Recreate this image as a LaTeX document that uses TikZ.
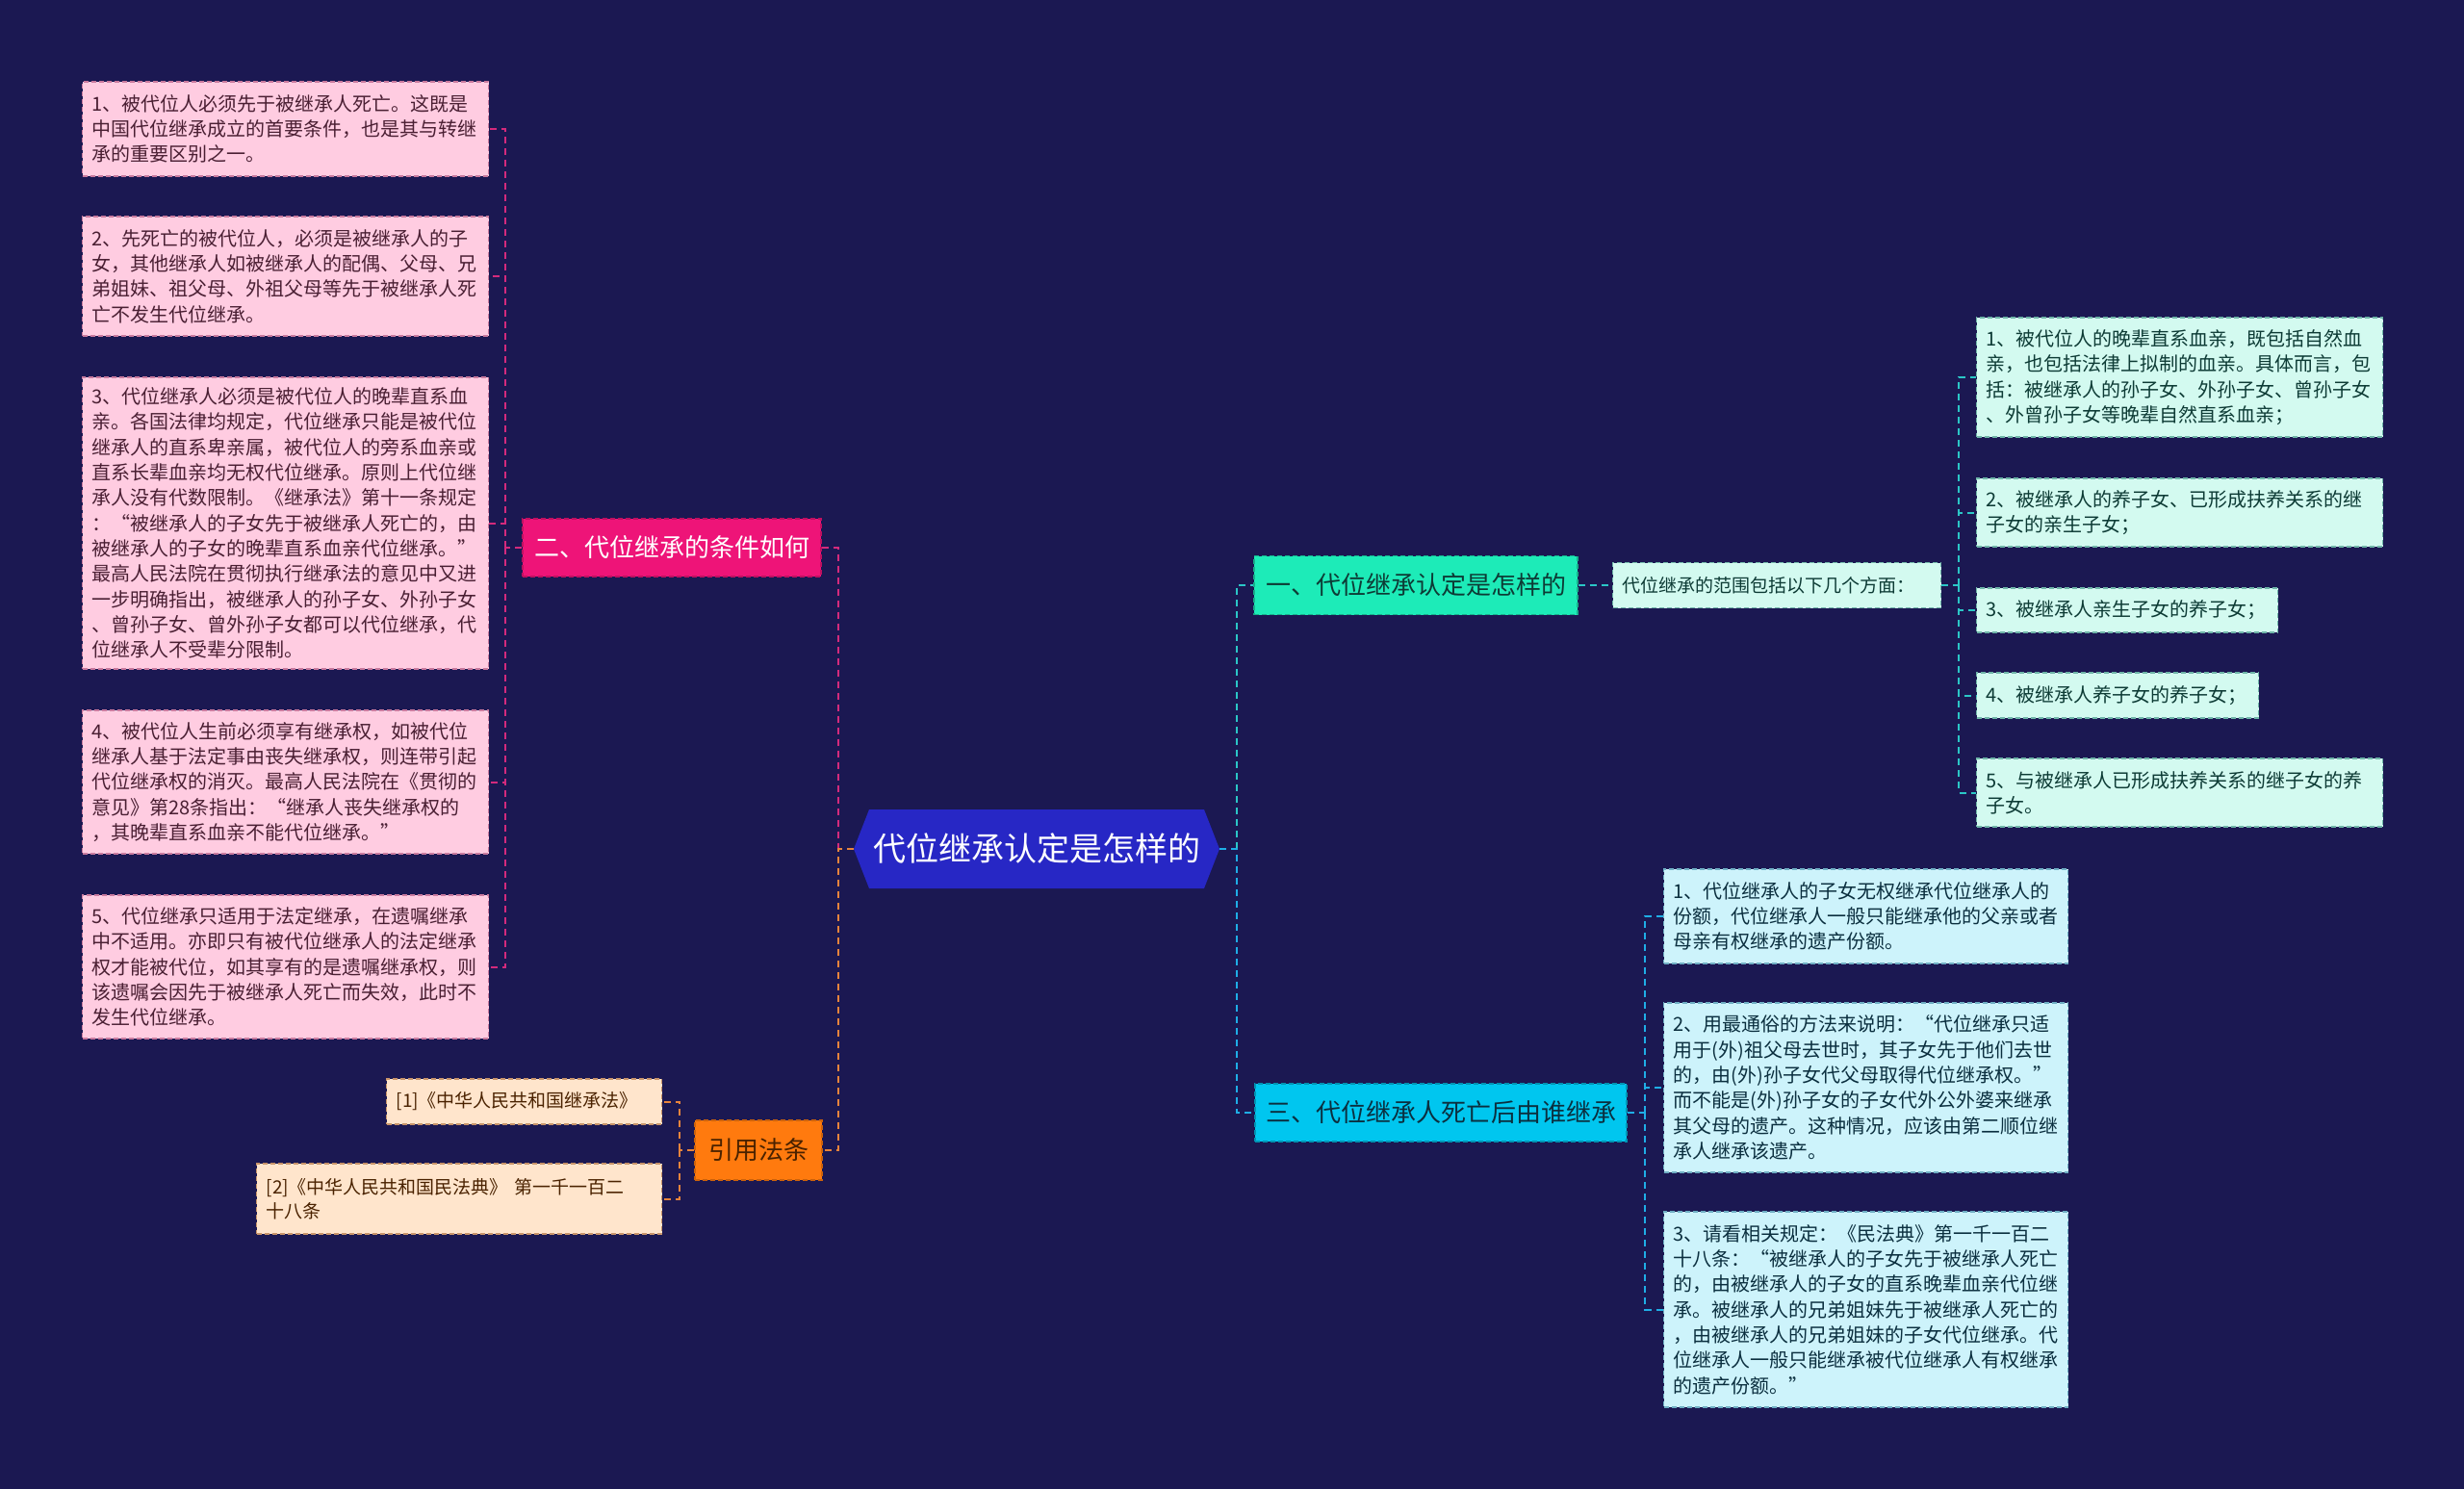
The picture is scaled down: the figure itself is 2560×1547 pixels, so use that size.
\documentclass[tikz,border=0pt]{standalone}
\usepackage{fontspec}
\setmainfont{Noto Sans CJK SC}
\definecolor{bg}{HTML}{1B1852}
\definecolor{pinkfill}{HTML}{FFCCE1}
\definecolor{pinkdraw}{HTML}{C97A9E}
\definecolor{pinktext}{HTML}{4A1F33}
\definecolor{pinknode}{HTML}{EE1478}
\definecolor{pinkline}{HTML}{D42A7C}
\definecolor{orangenode}{HTML}{FF7A0E}
\definecolor{orangetext}{HTML}{4A2200}
\definecolor{reffill}{HTML}{FFE5CC}
\definecolor{refdraw}{HTML}{C8946A}
\definecolor{orangeline}{HTML}{E8843C}
\definecolor{tealnode}{HTML}{1DEBB8}
\definecolor{tealtext}{HTML}{0D3B35}
\definecolor{tealfill}{HTML}{D3FAF0}
\definecolor{tealdraw}{HTML}{6FB5A8}
\definecolor{tealline}{HTML}{2BC6C6}
\definecolor{cyannode}{HTML}{00C6EF}
\definecolor{cyantext}{HTML}{0B2F3F}
\definecolor{cyanfill}{HTML}{CDF3FB}
\definecolor{cyandraw}{HTML}{6FAFC4}
\definecolor{cyanline}{HTML}{1FAEE6}
\definecolor{centralfill}{HTML}{2727C5}
\tikzset{
  conn/.style={line width=2pt, dash pattern=on 7pt off 5pt},
  leafbox/.style={anchor=west, inner xsep=10pt, inner ysep=0pt, align=left,
    line width=1.2pt, dash pattern=on 5pt off 3pt,
    font=\fontsize{20pt}{26.3pt}\selectfont},
  pleaf/.style={leafbox, fill=pinkfill, draw=pinkdraw, text=pinktext},
  rleaf/.style={leafbox, fill=reffill, draw=refdraw, text=orangetext, font=\fontsize{19pt}{25pt}\selectfont},
  tleaf/.style={leafbox, fill=tealfill, draw=tealdraw, text=tealtext},
  cleaf/.style={leafbox, fill=cyanfill, draw=cyandraw, text=cyantext},
  tnode/.style={inner sep=0pt, line width=1.2pt, dash pattern=on 5pt off 3pt,
    font=\fontsize{26pt}{30pt}\selectfont}
}
\begin{document}
\begin{tikzpicture}[x=1pt,y=-1pt]
\useasboundingbox (0,0) rectangle (2560,1547);
\fill[bg] (0,0) rectangle (2560,1547);

% central node
\fill[centralfill] (887,882) -- (903,841) -- (1251,841) -- (1267,882) -- (1251,923) -- (903,923) -- cycle;
\node[font=\fontsize{34pt}{40pt}\selectfont, text=white, minimum width=380pt, minimum height=82pt, inner sep=0pt] (c) at (1077,882) {代位继承认定是怎样的};

% main branches
\node[tnode, fill=pinknode, draw=pinknode!80!black, text=white, minimum width=310pt, minimum height=60pt] (er) at (698,569) {二、代位继承的条件如何};
\node[tnode, fill=orangenode, draw=orangenode!80!black, text=orangetext, minimum width=132pt, minimum height=62pt] (yy) at (788,1195) {引用法条};
\node[tnode, fill=tealnode, draw=tealnode!75!black, text=tealtext, minimum width=336pt, minimum height=61pt] (yi) at (1471,608) {一、代位继承认定是怎样的};
\node[tnode, fill=cyannode, draw=cyannode!75!black, text=cyantext, minimum width=386pt, minimum height=60pt] (san) at (1497,1156) {三、代位继承人死亡后由谁继承};

% left pink leaves
\node[pleaf, text width=402pt, minimum height=98pt] (p1) at (85,134) {1、被代位人必须先于被继承人死亡。这既是\\中国代位继承成立的首要条件，也是其与转继\\承的重要区别之一。};
\node[pleaf, text width=402pt, minimum height=124pt] (p2) at (85,287) {2、先死亡的被代位人，必须是被继承人的子\\女，其他继承人如被继承人的配偶、父母、兄\\弟姐妹、祖父母、外祖父母等先于被继承人死\\亡不发生代位继承。};
\node[pleaf, text width=402pt, minimum height=303pt] (p3) at (85,543.5) {3、代位继承人必须是被代位人的晚辈直系血\\亲。各国法律均规定，代位继承只能是被代位\\继承人的直系卑亲属，被代位人的旁系血亲或\\直系长辈血亲均无权代位继承。原则上代位继\\承人没有代数限制。《继承法》第十一条规定\\：“被继承人的子女先于被继承人死亡的，由\\被继承人的子女的晚辈直系血亲代位继承。”\\最高人民法院在贯彻执行继承法的意见中又进\\一步明确指出，被继承人的孙子女、外孙子女\\、曾孙子女、曾外孙子女都可以代位继承，代\\位继承人不受辈分限制。};
\node[pleaf, text width=402pt, minimum height=149pt] (p4) at (85,812.5) {4、被代位人生前必须享有继承权，如被代位\\继承人基于法定事由丧失继承权，则连带引起\\代位继承权的消灭。最高人民法院在《贯彻的\\意见》第28条指出：“继承人丧失继承权的\\，其晚辈直系血亲不能代位继承。”};
\node[pleaf, text width=402pt, minimum height=149pt] (p5) at (85,1004.5) {5、代位继承只适用于法定继承，在遗嘱继承\\中不适用。亦即只有被代位继承人的法定继承\\权才能被代位，如其享有的是遗嘱继承权，则\\该遗嘱会因先于被继承人死亡而失效，此时不\\发生代位继承。};

% reference leaves
\node[rleaf, text width=266pt, minimum height=47pt] (f1) at (401,1144.5) {[1]《中华人民共和国继承法》};
\node[rleaf, text width=401pt, minimum height=73pt] (f2) at (266,1245.5) {[2]《中华人民共和国民法典》~第一千一百二\\十八条};

% teal leaves
\node[tleaf, text width=321pt, minimum height=47pt, font=\fontsize{19pt}{25pt}\selectfont] (r0) at (1675,608) {代位继承的范围包括以下几个方面：};
\node[tleaf, text width=402pt, minimum height=124pt] (y1) at (2053,392) {1、被代位人的晚辈直系血亲，既包括自然血\\亲，也包括法律上拟制的血亲。具体而言，包\\括：被继承人的孙子女、外孙子女、曾孙子女\\、外曾孙子女等晚辈自然直系血亲；};
\node[tleaf, text width=402pt, minimum height=71pt] (y2) at (2053,532.5) {2、被继承人的养子女、已形成扶养关系的继\\子女的亲生子女；};
\node[tleaf, text width=293pt, minimum height=46pt] (y3) at (2053,634) {3、被继承人亲生子女的养子女；};
\node[tleaf, text width=273pt, minimum height=47pt] (y4) at (2053,722.5) {4、被继承人养子女的养子女；};
\node[tleaf, text width=402pt, minimum height=71pt] (y5) at (2053,823.5) {5、与被继承人已形成扶养关系的继子女的养\\子女。};

% cyan leaves
\node[cleaf, text width=400pt, minimum height=98pt] (s1) at (1728,952) {1、代位继承人的子女无权继承代位继承人的\\份额，代位继承人一般只能继承他的父亲或者\\母亲有权继承的遗产份额。};
\node[cleaf, text width=400pt, minimum height=176pt] (s2) at (1728,1130) {2、用最通俗的方法来说明：“代位继承只适\\用于(外)祖父母去世时，其子女先于他们去世\\的，由(外)孙子女代父母取得代位继承权。”\\而不能是(外)孙子女的子女代外公外婆来继承\\其父母的遗产。这种情况，应该由第二顺位继\\承人继承该遗产。};
\node[cleaf, text width=400pt, minimum height=203pt] (s3) at (1728,1360.5) {3、请看相关规定：《民法典》第一千一百二\\十八条：“被继承人的子女先于被继承人死亡\\的，由被继承人的子女的直系晚辈血亲代位继\\承。被继承人的兄弟姐妹先于被继承人死亡的\\，由被继承人的兄弟姐妹的子女代位继承。代\\位继承人一般只能继承被代位继承人有权继承\\的遗产份额。”};

% connectors: central
\coordinate (jl) at (871,882);
\coordinate (jr) at (1285,882);
\draw[conn, pinkline] (er.east) -| (jl);
\draw[conn, orangeline] (c.west) -- (jl) |- (yy.east);
\draw[conn, tealline] (jr) |- (yi.west);
\draw[conn, cyanline] (c.east) -- (jr) |- (san.west);

% connectors: pink branch
\coordinate (jp) at (525,569);
\draw[conn, pinkline] (er.west) -- (jp);
\foreach \n in {p1,p2,p3,p4,p5} \draw[conn, pinkline] (jp) |- (\n.east);

% connectors: references
\coordinate (jf) at (706,1195);
\draw[conn, orangeline] (yy.west) -- (jf);
\foreach \n in {f1,f2} \draw[conn, orangeline] (jf) |- (\n.east);

% connectors: teal branch
\coordinate (jy) at (2035,608);
\draw[conn, tealline] (yi.east) -- (r0.west);
\draw[conn, tealline] (r0.east) -- (jy);
\foreach \n in {y1,y2,y3,y4,y5} \draw[conn, tealline] (jy) |- (\n.west);

% connectors: cyan branch
\coordinate (js) at (1709,1156);
\draw[conn, cyanline] (san.east) -- (js);
\foreach \n in {s1,s2,s3} \draw[conn, cyanline] (js) |- (\n.west);
\end{tikzpicture}
\end{document}
